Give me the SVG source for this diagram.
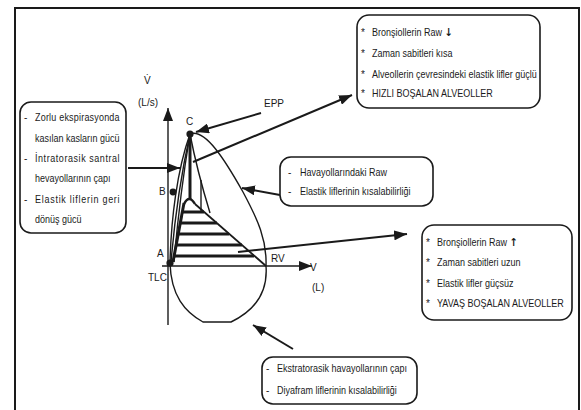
<svg xmlns="http://www.w3.org/2000/svg" width="581" height="410" viewBox="0 0 581 410">
<style>
text{font-family:"Liberation Sans",Arial,sans-serif;font-size:10px;fill:#1a1a1a}
.box{fill:#fff;stroke:#1a1a1a;stroke-width:1.6}
.ln{fill:none;stroke:#1a1a1a;stroke-width:1.4}
.th{fill:none;stroke:#1a1a1a;stroke-width:3}
.ar{fill:none;stroke:#1a1a1a;stroke-width:2}
.sym{font-family:"DejaVu Sans",sans-serif;font-weight:bold;font-size:11px}
</style>
<defs>
<marker id="ah" markerUnits="userSpaceOnUse" markerWidth="14" markerHeight="10" refX="13" refY="5" orient="auto">
<path d="M0,0 L13,5 L0,10 Z" fill="#1a1a1a"/>
</marker>
</defs>
<rect width="581" height="410" fill="#fff"/>
<path d="M15,410 V8 H579 V410" fill="none" stroke="#1a1a1a" stroke-width="2"/>

<g id="axes">
<path class="ln" d="M168,325 V108" marker-end="url(#ah)"/>
<path class="ln" d="M162,266 H312" marker-end="url(#ah)"/>
<text x="144" y="84" font-size="11">V̇</text>
<text x="138" y="106">(L/s)</text>
<text x="310" y="271">V</text>
<text x="312" y="291">(L)</text>
</g>

<g id="loop">
<path class="ln" d="M190,134 C205,128 225,160 243,192 C258,220 267,240 266,266"/>
<path class="ln" d="M266,266 C268,292 256,310 231,322 L203,322 C185,312 171,296 170,263"/>
<path class="ln" d="M170,263 C171,220 177,170 190,134"/>
<path class="ln" d="M171,262 C175,215 182,170 190,134"/>
<path class="th" d="M184,203 L173,262"/>
<path class="ln" d="M174,262 C178,215 184,170 190,134"/>
<path class="ln" d="M190,134 C195,160 203,190 210,213"/>
<path class="th" d="M190,137 V199"/>
<path class="ln" d="M201,180 V211"/>
<path d="M184,204 Q189,194 195,204" fill="none" stroke="#1a1a1a" stroke-width="2.4"/>
<path d="M195,204 L266,266" fill="none" stroke="#1a1a1a" stroke-width="1.8"/>
<path class="th" d="M182,212 H204 M180,223 H217 M178,234 H229 M176,245 H242 M173,256 H254"/>
<circle cx="190" cy="134" r="3.6" fill="#1a1a1a"/>
<circle cx="173" cy="192" r="3.4" fill="#1a1a1a"/>
<circle cx="170" cy="263" r="3.6" fill="#1a1a1a"/>
<text x="186" y="125">C</text>
<text x="159" y="195">B</text>
<text x="157" y="257">A</text>
<text x="148" y="281">TLC</text>
<text x="271" y="262">RV</text>
<text x="264" y="107">EPP</text>
</g>

<g id="connectors">
<path class="ar" d="M261,113 L196,132" marker-end="url(#ah)"/>
<path class="ar" d="M193,162 L352,95" marker-end="url(#ah)"/>
<path class="ar" d="M128,168 L180,168" marker-end="url(#ah)"/>
<path class="ar" d="M280,195 L242,188" marker-end="url(#ah)"/>
<path class="ar" d="M238,252 L407,234" marker-end="url(#ah)"/>
<path class="ar" d="M293,349 L253,325" marker-end="url(#ah)"/>
</g>

<g id="box-left">
<rect class="box" x="20" y="102" width="106" height="131" rx="11"/>
<text x="24" y="121">-</text><text transform="translate(35,121) scale(0.9,1)" textLength="94" lengthAdjust="spacing">Zorlu ekspirasyonda</text>
<text transform="translate(35,142) scale(0.9,1)">kasılan kasların gücü</text>
<text x="24" y="162">-</text><text transform="translate(35,162) scale(0.9,1)" textLength="94" lengthAdjust="spacing">İntratorasik santral</text>
<text transform="translate(35,182) scale(0.9,1)">hevayollarının çapı</text>
<text x="24" y="203">-</text><text transform="translate(35,203) scale(0.9,1)" textLength="94" lengthAdjust="spacing">Elastik liflerin geri</text>
<text transform="translate(35,223) scale(0.9,1)">dönüş gücü</text>
</g>

<g id="box-top-right">
<rect class="box" x="357" y="15" width="183" height="93" rx="12"/>
<text x="361" y="36">*</text><text transform="translate(372,36) scale(0.9,1)">Bronşiollerin Raw <tspan class="sym">↓</tspan></text>
<text x="361" y="57">*</text><text transform="translate(372,57) scale(0.9,1)">Zaman sabitleri kısa</text>
<text x="361" y="78">*</text><text transform="translate(372,78) scale(0.9,1)">Alveollerin çevresindeki elastik lifler güçlü</text>
<text x="361" y="97">*</text><text transform="translate(372,97) scale(0.9,1)">HIZLI BOŞALAN ALVEOLLER</text>
</g>

<g id="box-raw">
<rect class="box" x="280" y="157" width="153" height="49" rx="11"/>
<text x="288" y="176">-</text><text transform="translate(300,176) scale(0.9,1)">Havayollarındaki Raw</text>
<text x="288" y="195">-</text><text transform="translate(300,195) scale(0.9,1)">Elastik liflerinin kısalabilirliği</text>
</g>

<g id="box-right">
<rect class="box" x="422" y="225" width="150" height="95" rx="12"/>
<text x="426" y="246">*</text><text transform="translate(437,246) scale(0.9,1)">Bronşiollerin Raw <tspan class="sym">↑</tspan></text>
<text x="426" y="266">*</text><text transform="translate(437,266) scale(0.9,1)">Zaman sabitleri uzun</text>
<text x="426" y="287">*</text><text transform="translate(437,287) scale(0.9,1)">Elastik lifler güçsüz</text>
<text x="426" y="307">*</text><text transform="translate(437,307) scale(0.9,1)">YAVAŞ BOŞALAN ALVEOLLER</text>
</g>

<g id="box-bottom">
<rect class="box" x="262" y="357" width="155" height="47" rx="11"/>
<text x="266" y="372">-</text><text transform="translate(277,372) scale(0.9,1)">Ekstratorasik havayollarının çapı</text>
<text x="266" y="394">-</text><text transform="translate(277,394) scale(0.9,1)">Diyafram liflerinin kısalabilirliği</text>
</g>
</svg>
